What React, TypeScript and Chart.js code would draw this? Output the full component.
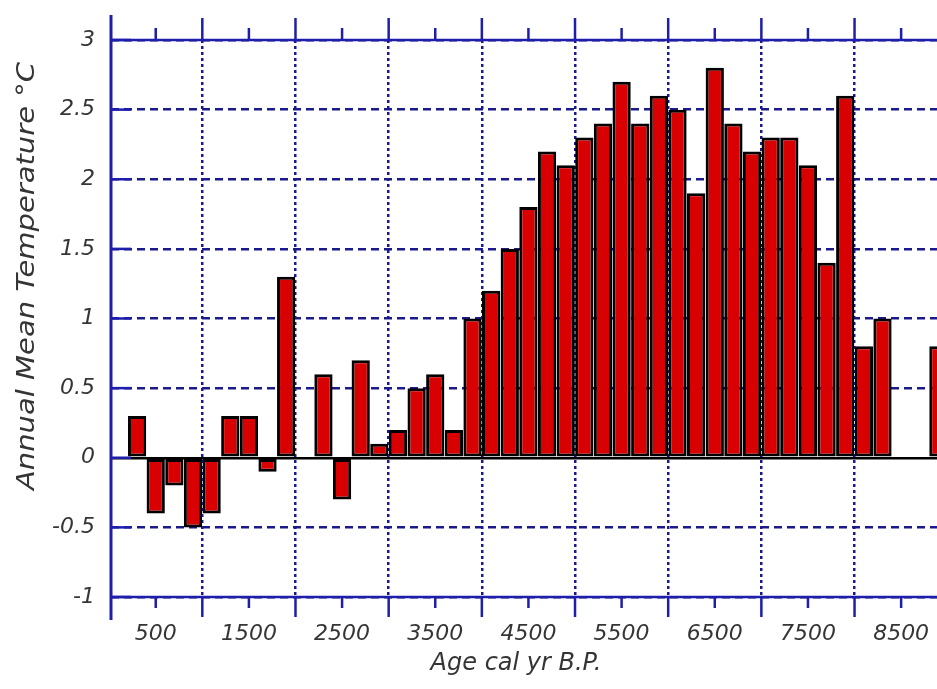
import { useEffect, useRef } from 'react';
import { Chart, registerables } from 'chart.js';

Chart.register(...registerables);

// ---- data ----
const AGES = [
  300, 500, 700, 900, 1100, 1300, 1500, 1700, 1900,
  2300, 2500, 2700, 2900, 3100, 3300, 3500, 3700, 3900,
  4100, 4300, 4500, 4700, 4900, 5100, 5300, 5500, 5700, 5900,
  6100, 6300, 6500, 6700, 6900, 7100, 7300, 7500, 7700, 7900,
  8100, 8300, 8900,
];
const TEMPS = [
  0.3, -0.4, -0.2, -0.5, -0.4, 0.3, 0.3, -0.1, 1.3,
  0.6, -0.3, 0.7, 0.1, 0.2, 0.5, 0.6, 0.2, 1.0,
  1.2, 1.5, 1.8, 2.2, 2.1, 2.3, 2.4, 2.7, 2.4, 2.6,
  2.5, 1.9, 2.8, 2.4, 2.2, 2.3, 2.3, 2.1, 1.4, 2.6,
  0.8, 1.0, 0.8,
];
const X_TICKS = [500, 1000, 1500, 2000, 2500, 3000, 3500, 4000, 4500, 5000, 5500, 6000, 6500, 7000, 7500, 8000, 8500];
const X_LABELED = [500, 1500, 2500, 3500, 4500, 5500, 6500, 7500, 8500];
const X_MIN = 20;
const X_MAX = 8885;
const Y_MIN = -1;
const Y_MAX = 3;
const Y_STEP = 0.5;
const X_TITLE = 'Age cal yr B.P.';
const Y_TITLE = 'Annual Mean Temperature °C';

// ---- styles ----
const AXIS = '#1e1eaa';
const GRID = '#1a1a8c';
const TEXT = '#353535';
const FAMILY = 'DejaVu Sans';
const BAR_FILL = '#d80000';

const framePlugin = {
  id: 'frame',
  afterDatasetsDraw(chart: any) {
    const { ctx, chartArea: a, scales } = chart;
    const x = scales.x;
    const y = scales.y;
    const line = (x1: number, y1: number, x2: number, y2: number) => {
      ctx.beginPath();
      ctx.moveTo(x1, y1);
      ctx.lineTo(x2, y2);
      ctx.stroke();
    };
    ctx.save();
    ctx.strokeStyle = AXIS;
    ctx.setLineDash([]);
    ctx.lineWidth = 2.5;
    // inward y ticks
    y.ticks.forEach((t: any) => {
      const py = y.getPixelForValue(t.value);
      line(a.left, py, a.left + 20, py);
    });
    // top & bottom axis lines
    line(a.left, a.top, a.right, a.top);
    line(a.left, a.bottom, a.right, a.bottom);
    // x ticks outward top and bottom
    x.ticks.forEach((t: any) => {
      const px = x.getPixelForValue(t.value);
      const major = t.value % 1000 === 0;
      line(px, a.top, px, a.top - (major ? 22 : 12));
      line(px, a.bottom, px, a.bottom + (major ? 20 : 11));
    });
    // left axis
    ctx.lineWidth = 3;
    line(a.left, a.top - 25, a.left, a.bottom + 23);

    // titles
    ctx.fillStyle = TEXT;
    ctx.font = `italic 24px "${FAMILY}"`;
    ctx.textAlign = 'center';
    ctx.textBaseline = 'alphabetic';
    ctx.fillText(X_TITLE, (a.left + a.right) / 2 - 8, a.bottom + 73);

    ctx.save();
    ctx.font = `italic 24px "${FAMILY}"`;
    ctx.translate(34, 276);
    ctx.rotate(-Math.PI / 2);
    const w = ctx.measureText(Y_TITLE).width;
    ctx.scale(428 / w, 1);
    ctx.fillText(Y_TITLE, 0, 0);
    ctx.restore();

    ctx.restore();
  },
};

export default function App() {
  const ref = useRef<HTMLCanvasElement | null>(null);

  useEffect(() => {
    if (!ref.current) return;
    const tickFont = { family: FAMILY, size: 22, style: 'italic' as const };
    const chart = new Chart(ref.current, {
      type: 'bar',
      data: {
        datasets: [
          {
            data: AGES.map((age, i) => ({ x: age, y: TEMPS[i] })),
            backgroundColor: BAR_FILL,
            borderColor: '#000000',
            borderWidth: 3,
            borderSkipped: false,
            barPercentage: 0.98,
            categoryPercentage: 1,
          },
        ],
      },
      options: {
        animation: false,
        responsive: true,
        maintainAspectRatio: false,
        layout: { padding: { top: 40, left: 0, right: 0, bottom: 0 } },
        plugins: {
          legend: { display: false },
          tooltip: { enabled: false },
          title: { display: false },
        },
        scales: {
          x: {
            type: 'linear',
            min: X_MIN,
            max: X_MAX,
            offset: false,
            grid: {
              offset: false,
              drawTicks: false,
              lineWidth: 2.5,
              color: (c: any) => (c.tick && c.tick.value % 1000 === 0 ? GRID : 'rgba(0,0,0,0)'),
            },
            border: { display: false, dash: [3, 3] },
            ticks: {
              padding: 24,
              autoSkip: false,
              maxRotation: 0,
              color: TEXT,
              font: tickFont,
              callback: (v: any) => (X_LABELED.includes(Number(v)) ? String(v) : ''),
            },
            afterBuildTicks: (s: any) => {
              s.ticks = X_TICKS.map((v) => ({ value: v }));
            },
            afterFit: (s: any) => {
              s.height = 92;
              s.paddingLeft = 0;
              s.paddingRight = 0;
            },
          },
          y: {
            type: 'linear',
            min: Y_MIN,
            max: Y_MAX,
            grid: {
              drawTicks: false,
              lineWidth: 2.5,
              color: (c: any) => (c.tick && c.tick.value === 0 ? '#000000' : GRID),
            },
            border: {
              display: false,
              dash: (c: any) => (c.tick && c.tick.value === 0 ? [] : [8, 5]),
            },
            ticks: {
              stepSize: Y_STEP,
              padding: 16,
              color: TEXT,
              font: tickFont,
              callback: (v: any) => String(v),
            },
            afterFit: (s: any) => {
              s.width = 111;
              s.paddingTop = 0;
              s.paddingBottom = 0;
            },
          },
        },
      },
      plugins: [framePlugin],
    });
    return () => chart.destroy();
  }, []);

  return (
    <div style={{ position: 'absolute', left: 0, top: 0, width: 937, height: 689, background: '#fff' }}>
      <canvas ref={ref} />
    </div>
  );
}
